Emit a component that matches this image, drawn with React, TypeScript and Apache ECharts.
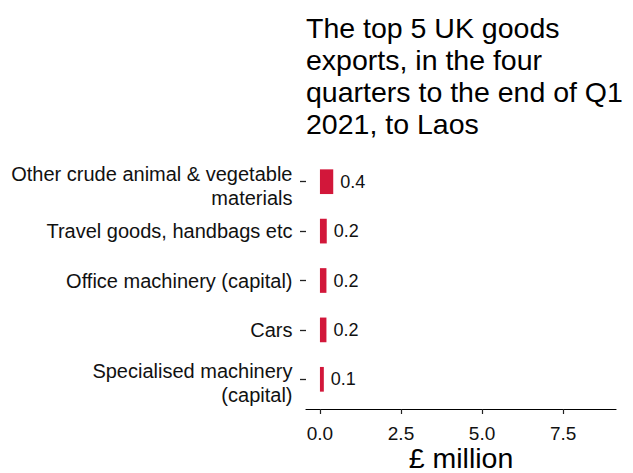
import React, { useEffect, useRef } from "react";
import * as echarts from "echarts";

const categories = [
  "Other crude animal & vegetable\nmaterials",
  "Travel goods, handbags etc",
  "Office machinery (capital)",
  "Cars",
  "Specialised machinery\n(capital)",
];
const values = [0.41, 0.21, 0.2, 0.2, 0.12];
const xTicks = [0, 2.5, 5, 7.5];
const titleText = "The top 5 UK goods\nexports, in the four\nquarters to the end of Q1\n2021, to Laos";
const xAxisName = "£ million";

const FONT = "'Liberation Sans', Arial, sans-serif";

export default function App() {
  const ref = useRef<HTMLDivElement>(null);
  useEffect(() => {
    if (!ref.current) return;
    const chart = echarts.init(ref.current, undefined, { renderer: "svg" });
    chart.setOption({
      animation: false,
      backgroundColor: "#ffffff",
      textStyle: { fontFamily: FONT },
      title: {
        text: titleText,
        left: 306,
        top: 12,
        padding: 0,
        textStyle: {
          fontFamily: FONT,
          fontSize: 28.5,
          lineHeight: 32,
          fontWeight: "normal",
          color: "#000000",
        },
      },
      grid: {
        left: 306,
        width: 310,
        top: 157,
        height: 247,
        containLabel: false,
        outerBoundsMode: "none",
      },
      xAxis: {
        type: "value",
        min: -0.43,
        max: 9.13,
        offset: 5,
        splitLine: { show: false },
        axisLine: { show: true, onZero: false, lineStyle: { color: "#000000", width: 1.2 } },
        axisTick: {
          show: true,
          length: 5,
          customValues: xTicks,
          lineStyle: { color: "#222222", width: 1.2 },
        },
        axisLabel: {
          customValues: xTicks,
          margin: 15,
          fontSize: 19,
          lineHeight: 19,
          color: "#111111",
          fontFamily: FONT,
          formatter: (v: number) => v.toFixed(1),
        },
        name: xAxisName,
        nameLocation: "middle",
        nameGap: 35,
        nameMoveOverlap: false,
        nameTextStyle: { fontSize: 28.5, lineHeight: 28, color: "#000000", fontFamily: FONT },
      },
      yAxis: {
        type: "category",
        data: categories,
        inverse: true,
        axisLine: { show: false, onZero: false },
        axisTick: {
          show: true,
          length: 6,
          alignWithLabel: true,
          lineStyle: { color: "#222222", width: 1.3 },
        },
        axisLabel: {
          interval: 0,
          margin: 13.5,
          color: "#111111",
          fontFamily: FONT,
          fontSize: 20,
          align: "right",
          formatter: (v: string) => {
            const parts = v.split("\n");
            if (parts.length > 1) return `{a|${parts[0]}}\n{b|${parts[1]}}`;
            return `{b|${v}}`;
          },
          rich: {
            a: { fontSize: 20, lineHeight: 32, padding: [8, 0, 0, 0], color: "#111111", fontFamily: FONT },
            b: { fontSize: 20, lineHeight: 24, color: "#111111", fontFamily: FONT },
          },
        },
      },
      series: [
        {
          type: "bar",
          data: values,
          barWidth: "50%",
          itemStyle: { color: "#d2173a" },
          label: {
            show: true,
            position: "right",
            distance: 7,
            fontSize: 18,
            color: "#111111",
            fontFamily: FONT,
            formatter: (p: any) => Number(p.value).toFixed(1),
          },
        },
      ],
    });
    return () => chart.dispose();
  }, []);
  return (
    <div
      ref={ref}
      style={{ position: "fixed", left: 0, top: 0, width: 633, height: 473 }}
    />
  );
}
